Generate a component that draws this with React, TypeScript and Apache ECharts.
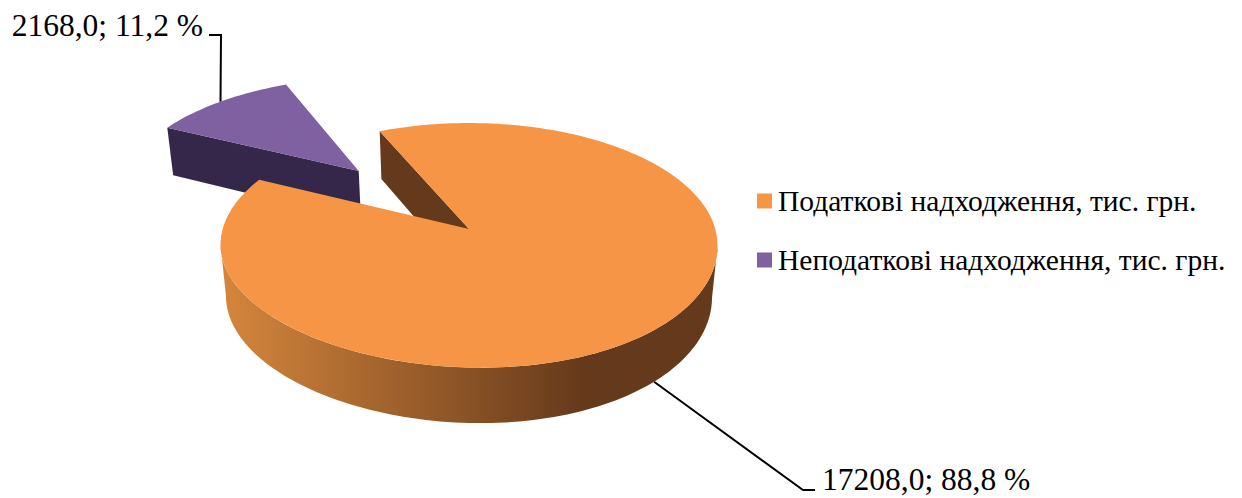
import React, { useEffect, useRef } from "react";
import * as echarts from "echarts";

const categories = ["Податкові надходження, тис. грн.", "Неподаткові надходження, тис. грн."];
const revenueValues = [17208.0, 2168.0];
const sliceColors = ["#f69546", "#7f60a0"];
const wallColors = ["#65391b", "#35274a"];

const total = revenueValues.reduce((a, b) => a + b, 0);
const FONT = '"Liberation Serif", "Times New Roman", serif';
const FIRST_ANGLE = -24; // degrees clockwise from the far side of the pie
const EXPLODE = [0, 0.705];
const NUDGE: [number, number][] = [[0, 0], [3, -1]];

// Perspective projection of the pie plane, fitted to the reference
const AX = 469, AY = 229, D = 7.52, F = 1852, G = 903, H = 394, ZK = 0.166, TILT = 0.024;
const rad = (d: number) => (d * Math.PI) / 180;

function project(X: number, Y: number, Z: number): [number, number] {
  const den = D - Y + ZK * Z;
  const x = AX + (F * X) / den;
  const y = AY + (G * Y + H * Z) / den + TILT * (x - AX) * Math.max(0, Y);
  return [x, y];
}

function sliceAngles(i: number): [number, number] {
  let a = FIRST_ANGLE;
  for (let k = 0; k < i; k++) a += (revenueValues[k] / total) * 360;
  return [a, a + (revenueValues[i] / total) * 360];
}

function slicePoint(i: number, deg: number, r: number, Z: number): [number, number] {
  const [a0, a1] = sliceAngles(i);
  const mid = rad((a0 + a1) / 2);
  const e = EXPLODE[i];
  const X = e * Math.sin(mid) + r * Math.sin(rad(deg));
  const Y = -e * Math.cos(mid) - r * Math.cos(rad(deg));
  const [x, y] = project(X, Y, Z);
  return [x + NUDGE[i][0], y + NUDGE[i][1]];
}

function arc(i: number, from: number, to: number, Z: number) {
  const n = Math.max(8, Math.ceil(Math.abs(to - from) / 1.5));
  const pts: [number, number][] = [];
  for (let k = 0; k <= n; k++) pts.push(slicePoint(i, from + ((to - from) * k) / n, 1, Z));
  return pts;
}

const fmt = (v: number) => v.toFixed(1).replace(".", ",");
const labelText = (i: number) =>
  `${fmt(revenueValues[i])}; ${fmt((revenueValues[i] / total) * 100)} %`;

function renderSlice(i: number) {
  const [a0, a1] = sliceAngles(i);
  const mid = (a0 + a1) / 2;
  const children: any[] = [];
  const apexTop = slicePoint(i, 0, 0, 0);
  const apexBottom = slicePoint(i, 0, 0, 1);

  // leader line and data label
  const anchor = slicePoint(i, mid, 1, i === 0 ? 1 : 0);
  const elbow: [number, number] = i === 0 ? [803, 490] : [221, 35];
  const end: [number, number] = i === 0 ? [815, 490] : [209, 35];
  children.push({
    type: "polyline",
    shape: { points: [anchor, elbow, end] },
    style: { stroke: "#000000", lineWidth: 2, fill: "none" },
  });
  children.push({
    type: "text",
    style: {
      text: labelText(i),
      x: i === 0 ? end[0] + 7 : end[0] - 6,
      y: i === 0 ? end[1] - 10.5 : end[1] - 9.5,
      align: i === 0 ? "left" : "right",
      verticalAlign: "middle",
      fontFamily: FONT,
      fontSize: 31.5,
      fill: "#000000",
    },
  });

  if (i === 0) {
    const vis = (Math.acos(-1 / D) * 180) / Math.PI;
    const lower = arc(i, vis, 360 - vis, 1);
    const upper = arc(i, 360 - vis, vis, 0);
    children.push({
      type: "polygon",
      shape: { points: [...lower, ...upper] },
      style: {
        fill: new echarts.graphic.LinearGradient(
          226, 0, 712, 0,
          [
            { offset: 0, color: "#d4853c" },
            { offset: 0.74, color: "#65391b" },
            { offset: 1, color: "#65391b" },
          ],
          true
        ),
      },
    });
  }
  children.push({
    type: "polygon",
    shape: { points: [slicePoint(i, a0, 1, 0), apexTop, apexBottom, slicePoint(i, a0, 1, 1)] },
    style: { fill: wallColors[i] },
  });
  children.push({
    type: "polygon",
    shape: { points: [apexTop, ...arc(i, a0, a1, 0)] },
    style: { fill: sliceColors[i] },
  });
  return { type: "group", children };
}

export default function App() {
  const ref = useRef<HTMLDivElement>(null);
  useEffect(() => {
    const chart = echarts.init(ref.current!, null, { renderer: "svg" });
    chart.setOption({
      animation: false,
      backgroundColor: "#ffffff",
      legend: {
        data: categories,
        orient: "vertical",
        left: 757,
        top: 186,
        padding: 0,
        icon: "rect",
        itemWidth: 15,
        itemHeight: 15,
        itemGap: 29,
        textStyle: { fontFamily: FONT, fontSize: 29.5, color: "#000000", padding: [0, 0, 0, 1] },
      },
      series: [1, 0].map((i) => ({
        type: "custom",
        name: categories[i],
        coordinateSystem: "none",
        itemStyle: { color: sliceColors[i] },
        data: [revenueValues[i]],
        silent: true,
        renderItem: () => renderSlice(i),
      })),
    });
    return () => chart.dispose();
  }, []);
  return <div ref={ref} style={{ position: "absolute", left: 0, top: 0, width: 1242, height: 498 }} />;
}
